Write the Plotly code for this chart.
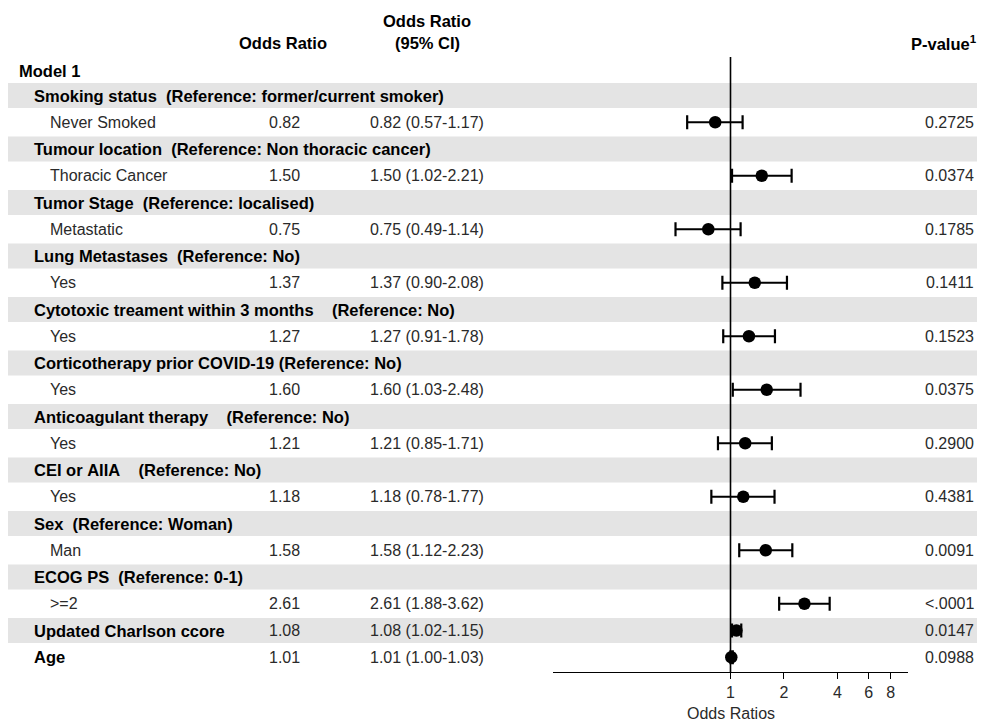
import plotly.graph_objects as go

# ---------------- data ----------------
row_labels = [
    "Smoking status  (Reference: former/current smoker)",
    "Never Smoked",
    "Tumour location  (Reference: Non thoracic cancer)",
    "Thoracic Cancer",
    "Tumor Stage  (Reference: localised)",
    "Metastatic",
    "Lung Metastases  (Reference: No)",
    "Yes",
    "Cytotoxic treament within 3 months    (Reference: No)",
    "Yes",
    "Corticotherapy prior COVID-19 (Reference: No)",
    "Yes",
    "Anticoagulant therapy    (Reference: No)",
    "Yes",
    "CEI or AIIA    (Reference: No)",
    "Yes",
    "Sex  (Reference: Woman)",
    "Man",
    "ECOG PS  (Reference: 0-1)",
    ">=2",
    "Updated Charlson ccore",
    "Age",
]
# 'h' = grouping header (bold, shaded), 'l' = level (indented), 'v' = stand-alone variable (bold)
row_kind = ["h", "l", "h", "l", "h", "l", "h", "l", "h", "l", "h", "l",
            "h", "l", "h", "l", "h", "l", "h", "l", "v", "v"]
row_shaded = [True, False, True, False, True, False, True, False, True, False, True, False,
              True, False, True, False, True, False, True, False, True, False]
odds_ratio = [None, 0.82, None, 1.50, None, 0.75, None, 1.37, None, 1.27, None, 1.60,
              None, 1.21, None, 1.18, None, 1.58, None, 2.61, 1.08, 1.01]
ci_low = [None, 0.57, None, 1.02, None, 0.49, None, 0.90, None, 0.91, None, 1.03,
          None, 0.85, None, 0.78, None, 1.12, None, 1.88, 1.02, 1.00]
ci_high = [None, 1.17, None, 2.21, None, 1.14, None, 2.08, None, 1.78, None, 2.48,
           None, 1.71, None, 1.77, None, 2.23, None, 3.62, 1.15, 1.03]
p_values = [None, "0.2725", None, "0.0374", None, "0.1785", None, "0.1411", None, "0.1523", None, "0.0375",
            None, "0.2900", None, "0.4381", None, "0.0091", None, "<.0001", "0.0147", "0.0988"]
x_tick_vals = [1, 2, 4, 6, 8]
x_tick_text = ["1", "2", "4", "6", "8"]
x_title = "Odds Ratios"

# ---------------- layout constants ----------------
PAGE_W, PAGE_H = 985, 723
OFF = 8                      # default body margin of the html page
W, H = PAGE_W - OFF, PAGE_H - OFF
FONT = "Liberation Sans, Arial, sans-serif"
FS = 16
FSB = 16.5
TXT = "#2a2a2a"
row0_px = 95.5 - OFF         # figure-pixel centre of first row
pitch = 26.75                # row pitch in px
axis_px = 672 - OFF          # figure-pixel y of the x-axis line
dom_bottom = 1 - axis_px / H
y_top = -row0_px / pitch
y_bot = (axis_px - row0_px) / pitch


def row_of_px(py):
    return (py - OFF - row0_px) / pitch


def px(xp):
    return (xp - OFF) / W


n = len(row_labels)
rows = list(range(n))

fig = go.Figure()

shapes = []
for i in rows:
    if row_shaded[i]:
        shapes.append(dict(type="rect", xref="paper", yref="y", x0=px(7), x1=1,
                           y0=i - 0.468, y1=i + 0.468, fillcolor="#e4e4e4",
                           line=dict(width=0), layer="below"))
shapes.append(dict(type="line", xref="x", yref="paper", x0=1, x1=1,
                   y0=dom_bottom, y1=1 - (57 - OFF) / H, line=dict(color="black", width=1.6)))

pi = [i for i in rows if odds_ratio[i] is not None]
fig.add_trace(go.Scatter(
    x=[odds_ratio[i] for i in pi],
    y=pi,
    mode="markers",
    marker=dict(symbol="circle", size=12.5, color="black"),
    error_x=dict(type="data", symmetric=False,
                 array=[ci_high[i] - odds_ratio[i] for i in pi],
                 arrayminus=[odds_ratio[i] - ci_low[i] for i in pi],
                 color="black", thickness=2.2, width=7),
    cliponaxis=False,
    showlegend=False,
    hoverinfo="skip",
))

ann = []


def add_text(x, y, text, anchor="left", bold=False):
    ann.append(dict(xref="paper", yref="y", x=x, y=y,
                    text=f"<b>{text}</b>" if bold else text,
                    showarrow=False, xanchor=anchor, yanchor="middle",
                    font=dict(family=FONT, size=FSB if bold else FS,
                              color="black" if bold else TXT)))


def nb(s):
    return s.replace(" ", "\u00a0")


for i in rows:
    k = row_kind[i]
    if k in ("h", "v"):
        add_text(px(32), i, nb(row_labels[i]), bold=True)
    else:
        add_text(px(48), i, nb(row_labels[i]))
    if odds_ratio[i] is not None:
        add_text(px(284), i, f"{odds_ratio[i]:.2f}", anchor="center")
        add_text(px(368), i, f"{odds_ratio[i]:.2f} ({ci_low[i]:.2f}-{ci_high[i]:.2f})")
        add_text(px(976), i, p_values[i], anchor="right")

add_text(px(17), row_of_px(71), "Model 1", bold=True)
add_text(px(283), row_of_px(43), "Odds Ratio", anchor="center", bold=True)
add_text(px(427), row_of_px(21), "Odds Ratio", anchor="center", bold=True)
add_text(px(427), row_of_px(43), "(95% CI)", anchor="center", bold=True)
add_text(px(979), row_of_px(43), "P-value<sup>1</sup>", anchor="right", bold=True)

# x-axis title, placed under the axis domain centre
ann.append(dict(xref="paper", yref="paper", x=(px(553) + px(908)) / 2, y=1 - (713 - OFF) / H,
                text=x_title, showarrow=False, xanchor="center", yanchor="middle",
                font=dict(family=FONT, size=FS, color=TXT)))

fig.update_layout(
    width=W, height=H,
    margin=dict(l=0, r=0, t=0, b=0),
    paper_bgcolor="white", plot_bgcolor="rgba(0,0,0,0)",
    shapes=shapes, annotations=ann,
    font=dict(family=FONT, size=FS, color=TXT),
    xaxis=dict(type="log", range=[-1, 1], domain=[px(553), px(908)],
               showgrid=False, zeroline=False, showline=True, linecolor="black", linewidth=1.2,
               ticks="outside", ticklen=6, tickwidth=1.2, tickcolor="black",
               tickvals=x_tick_vals, ticktext=x_tick_text,
               tickfont=dict(family=FONT, size=FS, color=TXT),
               anchor="y"),
    yaxis=dict(range=[y_bot, y_top], domain=[dom_bottom, 1], visible=False, fixedrange=True),
)

fig.write_html("out.html")
